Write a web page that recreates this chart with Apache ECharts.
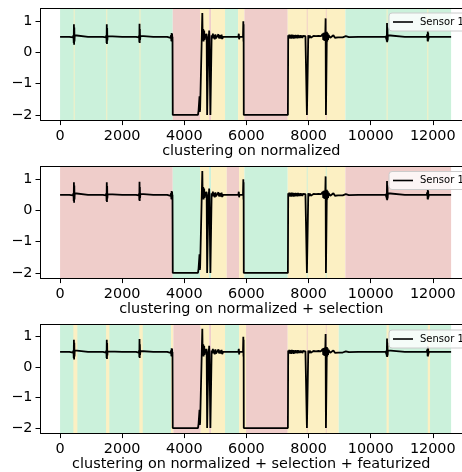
<!DOCTYPE html>
<html>
<head>
<meta charset="utf-8">
<script src="https://cdn.jsdelivr.net/npm/echarts@6/dist/echarts.min.js"></script>
<style>
html,body{margin:0;padding:0;background:#fff;}
#chart{width:462px;height:472px;}
</style>
</head>
<body>
<div id="chart"></div>
<script>
// ---- data ----
const xTicks = [0, 2000, 4000, 6000, 8000, 10000, 12000];
const yTicks = [-2, -1, 0, 1];
const titles = [
  'clustering on normalized',
  'clustering on normalized + selection',
  'clustering on normalized + selection + featurized'
];
const seriesName = 'Sensor 1';

// Sensor 1 signal, [x, value] pairs
const signal = [
  [0,0.5],[300,0.5],[420,0.48],[432,0.55],[440,0.3],[446,0.9],[452,0.25],[458,0.8],[464,0.35],[472,0.55],[490,0.5],
  [900,0.5],[905,0.46],[910,0.54],[915,0.5],
  [1380,0.5],[1480,0.48],[1492,0.55],[1498,0.3],[1504,0.9],[1510,0.27],[1516,0.78],[1522,0.38],[1530,0.52],[1550,0.5],
  [2000,0.5],[2005,0.46],[2010,0.54],[2015,0.5],
  [2450,0.5],[2535,0.48],[2545,0.55],[2552,0.33],[2558,0.92],[2564,0.3],[2570,0.75],[2576,0.4],[2585,0.53],[2600,0.5],
  [3000,0.5],[3005,0.46],[3010,0.54],[3015,0.5],
  [3450,0.5],[3560,0.47],[3575,0.55],[3585,0.36],[3592,0.62],[3600,0.35],[3607,0.6],[3614,0.4],[3620,0.5],[3628,-2.0],
  [4440,-2.0],[4460,-1.85],[4490,-1.4],[4500,-1.9],[4510,-1.8],[4580,1.26],[4590,0.5],[4610,0.75],[4620,0.35],
  [4640,0.7],[4650,0.4],[4670,0.55],[4690,0.45],[4700,0.6],[4720,0.5],[4735,-2.0],[4760,-2.0],[4770,-1.98],
  [4780,0.6],[4790,0.38],[4800,0.7],[4810,0.45],[4825,0.5],[4840,-2.0],[4870,-2.0],[4880,0.55],[4900,0.45],
  [4920,0.6],[4940,0.45],[4960,0.55],[4980,0.42],[5000,0.58],[5020,0.45],[5050,0.5],[5080,0.42],[5100,0.58],
  [5120,0.45],[5150,0.55],[5180,0.45],[5200,0.57],[5220,0.43],[5250,0.5],[5280,0.55],[5300,0.45],[5320,0.5],
  [5740,0.5],[5755,0.6],[5765,0.42],[5775,0.5],[5890,0.5],[5900,1.0],[5905,0.35],[5910,0.9],[5915,-2.0],
  [7335,-2.0],[7345,0.55],[7360,0.44],[7380,0.57],[7400,0.45],[7420,0.56],[7440,0.44],[7460,0.57],[7480,0.45],
  [7500,0.56],[7520,0.44],[7540,0.55],[7560,0.45],[7580,0.56],[7600,0.46],[7620,0.55],[7640,0.45],[7660,0.56],
  [7680,0.46],[7700,0.54],[7720,0.46],[7740,0.55],[7760,0.47],[7780,0.54],[7800,0.46],[7820,0.53],[7840,0.47],
  [7860,0.54],[7880,0.47],[7900,0.52],[7920,0.48],[7940,0.5],[7948,-2.0],[7985,-2.0],[7992,0.55],[8010,0.46],
  [8040,0.54],[8070,0.47],[8100,0.53],[8130,0.47],[8160,0.53],[8200,0.48],[8240,0.52],[8280,0.47],[8320,0.53],
  [8360,0.48],[8400,0.52],[8440,0.5],[8460,0.6],[8475,0.4],[8490,0.63],[8505,0.38],[8520,0.64],[8535,0.37],
  [8550,1.09],[8560,-2.0],[8582,-2.0],[8590,0.66],[8602,0.35],[8615,0.62],[8628,0.4],[8642,0.56],[8660,0.5],
  [8700,0.47],[8750,0.45],[8800,0.55],[8850,0.47],[8900,0.53],[8950,0.48],
  [9000,0.52],[9100,0.48],[9200,0.52],[9300,0.49],[9600,0.5],[9605,0.46],[9610,0.54],[9615,0.5],
  [10490,0.5],[10505,0.42],[10512,0.55],[10520,0.35],[10527,0.94],[10533,0.33],[10540,0.8],[10547,0.38],[10555,0.55],[10570,0.5],
  [11100,0.5],[11105,0.46],[11110,0.54],[11115,0.5],
  [11800,0.5],[11820,0.45],[11828,0.58],[11835,0.36],[11840,0.68],[11846,0.35],[11852,0.62],[11860,0.42],[11870,0.5],
  [12590,0.5]
];

// cluster bands per subplot: [start, end, cluster]  (G green, R red, Y yellow)
const bands1 = [
  [0,3628,'G'],[3628,4507,'R'],[4507,4800,'Y'],[4800,4862,'R'],[4862,5312,'Y'],[5312,5731,'G'],
  [5731,5935,'Y'],[5935,7330,'R'],[7330,9186,'Y'],[9186,12590,'G'],
  [440,468,'Y'],[1490,1518,'Y'],[2560,2588,'Y'],[7942,7972,'R'],[8555,8585,'R'],[10515,10545,'Y'],[11825,11855,'Y']
];
const bands2 = [
  [0,3628,'R'],[3628,4507,'G'],[4507,4800,'Y'],[4800,4862,'G'],[4862,5367,'Y'],[5367,5763,'R'],
  [5763,5935,'Y'],[5935,7330,'G'],[7330,9186,'Y'],[9186,12590,'R'],
  [7942,7972,'G'],[8555,8585,'G']
];
const bands3 = [
  [0,3574,'G'],[3574,3648,'Y'],[3648,4530,'R'],[4530,4800,'Y'],[4800,4862,'R'],[4862,5312,'Y'],
  [5312,5763,'G'],[5763,5988,'Y'],[5988,7330,'R'],[7330,8973,'Y'],[8973,12590,'G'],
  [428,557,'Y'],[1481,1587,'Y'],[2553,2663,'Y'],[7942,7972,'R'],[8555,8585,'R'],[10512,10583,'Y'],[11838,11912,'Y']
];
const allBands = [bands1, bands2, bands3];

// ---- layout / style ----
const palette = { G: '#cbf1db', R: '#efcdca', Y: '#fcf0c3' };
const FONT = 'DejaVu Sans';
const gridTops = [8.7, 166.7, 324.5];
const nameGaps = [24, 24.5, 23.5];
const legendTops = [13, 171.5, 330];
const X_MIN = -630, X_MAX = 12941, Y_MIN = -2.165, Y_MAX = 1.40;

const grids = [], xAxes = [], yAxes = [], series = [], legends = [];
const fmtNum = v => (v < 0 ? '\u2212' + (-v) : String(v));

for (let i = 0; i < 3; i++) {
  grids.push({ left: 40.5, top: gridTops[i], right: 0, height: 111.4, containLabel: false });
  xAxes.push({
    gridIndex: i, type: 'value', min: X_MIN, max: X_MAX, position: 'bottom', z: 10,
    axisLine: { show: true, onZero: false, lineStyle: { color: '#000', width: 1 } },
    axisTick: { show: true, length: 5, customValues: xTicks, lineStyle: { color: '#000', width: 1 } },
    axisLabel: { customValues: xTicks, formatter: v => fmtNum(v), fontSize: 14.4, color: '#000', fontFamily: FONT, margin: 9 },
    splitLine: { show: false },
    name: titles[i], nameLocation: 'middle', nameGap: nameGaps[i],
    nameTextStyle: { fontSize: 14.4, color: '#000', fontFamily: FONT }
  });
  xAxes.push({
    gridIndex: i, type: 'value', min: X_MIN, max: X_MAX, position: 'top', z: 10,
    axisLine: { show: true, onZero: false, lineStyle: { color: '#000', width: 1 } },
    axisTick: { show: false }, axisLabel: { show: false }, splitLine: { show: false }
  });
  yAxes.push({
    gridIndex: i, type: 'value', min: Y_MIN, max: Y_MAX, z: 10,
    axisLine: { show: true, onZero: false, lineStyle: { color: '#000', width: 1 } },
    axisTick: { show: true, length: 5, customValues: yTicks, lineStyle: { color: '#000', width: 1 } },
    axisLabel: { customValues: yTicks, formatter: v => fmtNum(v), fontSize: 14.4, color: '#000', fontFamily: FONT, margin: 8 },
    splitLine: { show: false }
  });
  series.push({
    name: seriesName, type: 'line', xAxisIndex: i * 2, yAxisIndex: i,
    data: signal, symbol: 'none', showSymbol: false,
    lineStyle: { color: '#000', width: 1.8 }, itemStyle: { color: '#000' },
    markArea: {
      silent: true,
      data: allBands[i].map(b => [
        { xAxis: b[0], itemStyle: { color: palette[b[2]], opacity: 1 } },
        { xAxis: b[1] }
      ])
    }
  });
  legends.push({
    data: [{ name: seriesName, icon: 'rect' }], left: 389, top: legendTops[i], orient: 'vertical',
    backgroundColor: 'rgba(255,255,255,0.8)', borderColor: '#cccccc', borderWidth: 1, borderRadius: 3,
    padding: [4, 6, 4, 4], itemWidth: 20, itemHeight: 1.6,
    itemStyle: { color: '#000', borderWidth: 0 },
    textStyle: { fontSize: 10, color: '#000', fontFamily: FONT, padding: [0, 0, 0, 2], lineHeight: 10 }
  });
}

const chart = echarts.init(document.getElementById('chart'), null, { renderer: 'canvas' });
chart.setOption({
  animation: false,
  backgroundColor: '#fff',
  grid: grids, xAxis: xAxes, yAxis: yAxes, series: series, legend: legends
});
</script>
</body>
</html>
